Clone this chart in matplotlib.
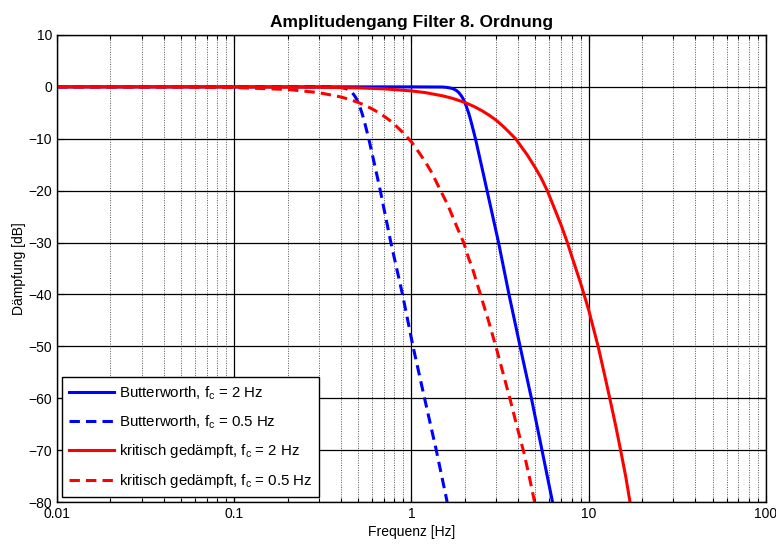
import numpy as np
import matplotlib
matplotlib.use('Agg')
import matplotlib.pyplot as plt
from matplotlib.ticker import LogLocator, NullFormatter, FixedLocator

plt.rcParams['font.family'] = ['Liberation Sans', 'DejaVu Sans']
plt.rcParams['mathtext.default'] = 'regular'

# Butterworth, fc = 2 Hz
f_bw2 = [0.01, 0.1, 1.0, 1.5, 1.6, 1.7, 1.75, 1.8, 1.85, 1.9, 1.95, 2.0, 2.05, 2.1, 2.15, 2.2, 2.3, 2.5, 2.67,
         3.1, 3.55, 4.1, 4.75, 5.45, 6.25]
db_bw2 = [0, 0, 0, -0.03, -0.12, -0.31, -0.49, -0.74, -1.1, -1.6, -2.2, -3.0, -3.95, -5.0, -6.2, -7.5, -10.1,
          -15.6, -20, -30, -40, -50, -60, -70, -80]

# Butterworth, fc = 0.5 Hz
f_bw05 = [0.01, 0.1, 0.3, 0.375, 0.4, 0.425, 0.4375, 0.45, 0.4625, 0.475, 0.4875, 0.5, 0.5125, 0.525, 0.5375,
          0.55, 0.575, 0.6, 0.625, 0.667, 0.765, 0.89, 1.02, 1.185, 1.38, 1.59]
db_bw05 = [0, 0, 0, -0.03, -0.12, -0.31, -0.49, -0.74, -1.1, -1.6, -2.2, -3.0, -3.95, -5.0, -6.2,
           -7.5, -10.1, -12.9, -15.6, -20, -30, -40, -50, -60, -70, -80]

# kritisch gedaempft, fc = 2 Hz
f_kd2 = [0.01, 0.1, 0.3, 0.5, 0.7, 1.0, 1.2, 1.5, 1.7, 2.0, 2.25, 2.5, 2.75, 3.0, 3.3, 3.5, 3.87, 4.2, 4.5,
         5.0, 5.4, 5.84, 6.3, 7.0, 7.58, 8.0, 9.0, 10.0, 11.3, 12.2, 13.15, 14.2, 15.2, 16.2, 17.1]
db_kd2 = [0, -0.01, -0.07, -0.2, -0.38, -0.78, -1.11, -1.73, -2.2, -3.0, -3.77, -4.6, -5.49, -6.4, -7.64, -8.5,
          -10, -11.7, -13.1, -15.6, -17.6, -20, -22.8, -26.7, -30, -32.5, -37.8, -43, -50, -55, -60, -65.3, -70.3,
          -75.2, -80]

# kritisch gedaempft, fc = 0.5 Hz
f_kd05 = [0.01, 0.05, 0.1, 0.2, 0.3, 0.4, 0.45, 0.5, 0.55, 0.6, 0.65, 0.7, 0.75, 0.8, 0.9, 1.0, 1.1, 1.2,
          1.3, 1.46, 1.6, 1.8, 1.98, 2.1, 2.2, 2.45, 2.6, 2.7, 3.02, 3.3, 3.62, 3.9, 4.31, 4.6, 4.95]
db_kd05 = [0, -0.03, -0.13, -0.5, -1.11, -1.95, -2.45, -3.0, -3.6, -4.25, -4.92, -5.65, -6.4, -7.2, -8.9,
           -10.6, -12.6, -14.5, -16.5, -20, -22.7, -26.9, -30.2, -33.0, -34.8, -40, -42.9, -44.7, -50.5, -55.4,
           -60.5, -64.9, -70.5, -74.8, -80]

x_ticks = [0.01, 0.1, 1, 10, 100]
x_labels = ['0.01', '0.1', '1', '10', '100']
y_ticks = list(range(-80, 11, 10))

fig = plt.figure(figsize=(7.76, 5.44), dpi=100)
ax = fig.add_axes([0.0735, 0.0772, 0.9135, 0.8585])

lw = 2.2
dash = (0, (3.4, 2.0))
ax.semilogx(f_bw2, db_bw2, color=(0, 0, 1), lw=lw, label='Butterworth, f$_c$ = 2 Hz')
ax.semilogx(f_bw05, db_bw05, color=(0, 0, 1), lw=lw, ls=dash, label='Butterworth, f$_c$ = 0.5 Hz')
ax.semilogx(f_kd2, db_kd2, color=(1, 0, 0), lw=lw, label='kritisch gedämpft, f$_c$ = 2 Hz')
ax.semilogx(f_kd05, db_kd05, color=(1, 0, 0), lw=lw, ls=dash, label='kritisch gedämpft, f$_c$ = 0.5 Hz')

ax.set_xlim(0.01, 100)
ax.set_ylim(-80, 10)
ax.xaxis.set_major_locator(FixedLocator(x_ticks))
ax.set_xticklabels(x_labels)
ax.xaxis.set_minor_locator(LogLocator(base=10, subs=np.arange(2, 10)))
ax.xaxis.set_minor_formatter(NullFormatter())
ax.set_yticks(y_ticks)

ax.grid(True, which='major', color='black', lw=0.9, ls='-')
ax.grid(True, which='minor', axis='x', color='#555555', lw=0.7, ls=(0, (1, 1.5)))
ax.set_axisbelow(True)

ax.tick_params(which='both', direction='in', top=True, right=True, labelsize=10, width=0.8)
ax.tick_params(which='major', length=5)
ax.tick_params(which='minor', length=3)
for s in ax.spines.values():
    s.set_linewidth(1.0)

ax.set_title('Amplitudengang Filter 8. Ordnung', fontsize=12.5, fontweight='bold', pad=6)
ax.set_xlabel('Frequenz [Hz]', fontsize=10, labelpad=3)
ax.set_ylabel('Dämpfung [dB]', fontsize=10, labelpad=2)

leg = ax.legend(loc='lower left', fontsize=10.8, handlelength=3.0, labelspacing=0.78,
                fancybox=False, edgecolor='black', framealpha=1, borderaxespad=0.35,
                handletextpad=0.3, borderpad=0.45)
leg.get_frame().set_linewidth(1.0)

plt.savefig('out.png', dpi=100)
